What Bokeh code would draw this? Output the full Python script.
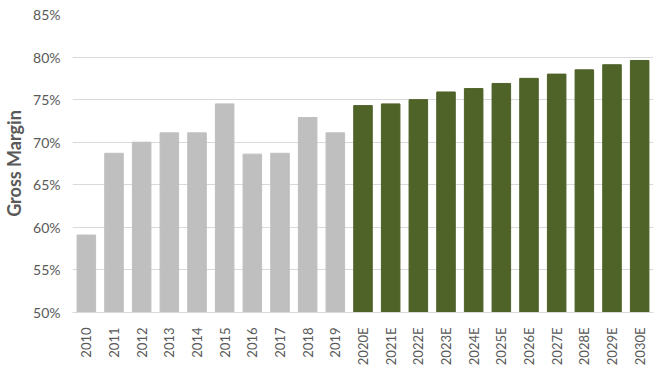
import math
from bokeh.plotting import figure
from bokeh.models import ColumnDataSource, FactorRange, Range1d, FixedTicker, PrintfTickFormatter
from bokeh.embed import file_html
from bokeh.resources import INLINE

years = ["2010", "2011", "2012", "2013", "2014", "2015", "2016", "2017", "2018", "2019",
         "2020E", "2021E", "2022E", "2023E", "2024E", "2025E", "2026E", "2027E", "2028E", "2029E", "2030E"]
gross_margin = [59.1, 68.7, 70.0, 71.1, 71.1, 74.5, 68.6, 68.7, 72.9, 71.1,
                74.3, 74.5, 75.0, 75.9, 76.3, 76.9, 77.5, 78.0, 78.5, 79.1, 79.6]
is_estimate = [y.endswith("E") for y in years]
colors = ["#4F6228" if e else "#BFBFBF" for e in is_estimate]

src = ColumnDataSource(dict(x=years, y=gross_margin, color=colors))

p = figure(x_range=FactorRange(*years), y_range=Range1d(50, 85),
           frame_width=581, frame_height=298, output_backend="svg", toolbar_location=None,
           min_border_left=62, min_border_right=3, min_border_top=14, min_border_bottom=40)

p.vbar(x="x", top="y", bottom=50, width=0.67, color="color", source=src)

font = "Lato"
p.outline_line_color = None
p.background_fill_color = "white"
p.title.text_font_size = "0px"

p.yaxis.ticker = FixedTicker(ticks=[50, 55, 60, 65, 70, 75, 80, 85])
p.yaxis.formatter = PrintfTickFormatter(format="%d%%")
p.yaxis.axis_line_color = None
p.yaxis.major_tick_line_color = None
p.yaxis.minor_tick_line_color = None
p.yaxis.major_label_text_font = font
p.yaxis.major_label_text_font_size = "14px"
p.yaxis.major_label_text_color = "#595959"
p.yaxis.axis_label = "Gross Margin"
p.yaxis.axis_label_text_font = font
p.yaxis.axis_label_text_font_size = "18px"
p.yaxis.axis_label_text_font_style = "bold"
p.yaxis.axis_label_text_color = "#595959"
p.yaxis.axis_label_standoff = 5
p.yaxis.major_label_standoff = 6

p.xaxis.axis_line_color = "#D9D9D9"
p.xaxis.major_tick_line_color = None
p.xaxis.minor_tick_line_color = None
p.xaxis.major_label_orientation = math.pi / 2
p.xaxis.major_label_text_font = font
p.xaxis.major_label_text_font_size = "13px"
p.xaxis.major_label_text_color = "#595959"
p.xaxis.major_label_standoff = 9

p.xgrid.grid_line_color = None
p.ygrid.grid_line_color = "#D9D9D9"
p.ygrid.grid_line_width = 1

open("out.html", "w").write(file_html(p, INLINE))
